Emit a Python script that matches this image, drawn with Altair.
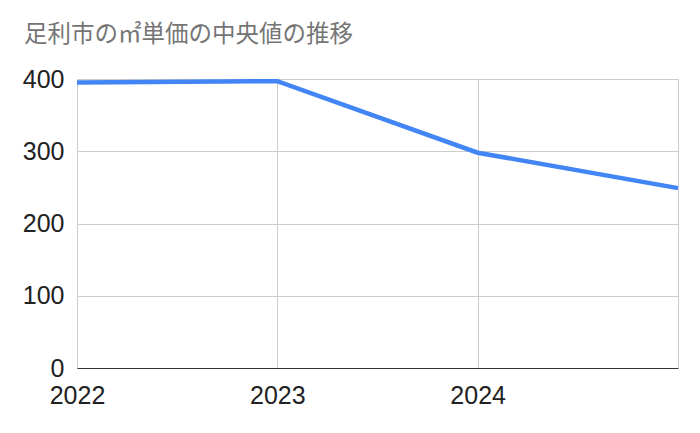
import altair as alt
import pandas as pd

years = [2022, 2023, 2024, 2025]
values = [395, 397, 298, 249]
title_text = "足利市の㎡単価の中央値の推移"

df = pd.DataFrame({"year": years, "value": values})

chart = alt.Chart(df).mark_line(color="#4285F4", strokeWidth=4.5).encode(
    x=alt.X("year:Q",
            scale=alt.Scale(domain=[2022, 2025], nice=False, zero=False),
            axis=alt.Axis(values=[2022, 2023, 2024, 2025], format="d",
                          labelExpr="datum.value == 2025 ? '' : datum.label",
                          title=None, ticks=False, domain=True, domainColor="#333333",
                          domainWidth=1, grid=True, gridColor="#cccccc",
                          labelFontSize=25, labelFont="Liberation Sans", labelColor="#222222",
                          labelPadding=15, labelFlush=False)),
    y=alt.Y("value:Q",
            scale=alt.Scale(domain=[0, 400], nice=False),
            axis=alt.Axis(values=[0, 100, 200, 300, 400], title=None, ticks=False,
                          domain=False, grid=True, gridColor="#cccccc",
                          labelFontSize=25, labelFont="Liberation Sans", labelColor="#222222",
                          labelPadding=13)),
).properties(
    width=601, height=289,
    autosize=alt.AutoSizeParams(type="none"),
    padding={"left": 69, "top": 71, "right": 14, "bottom": 50},
    title=alt.TitleParams(title_text, anchor="start", frame="group", offset=21,
                          dx=-53, fontSize=23.5, font="Noto Sans CJK JP",
                          fontWeight="normal", color="#757575"),
).configure_view(stroke=None)

chart.save("out.html", embed_options={"renderer": "svg", "actions": False})
